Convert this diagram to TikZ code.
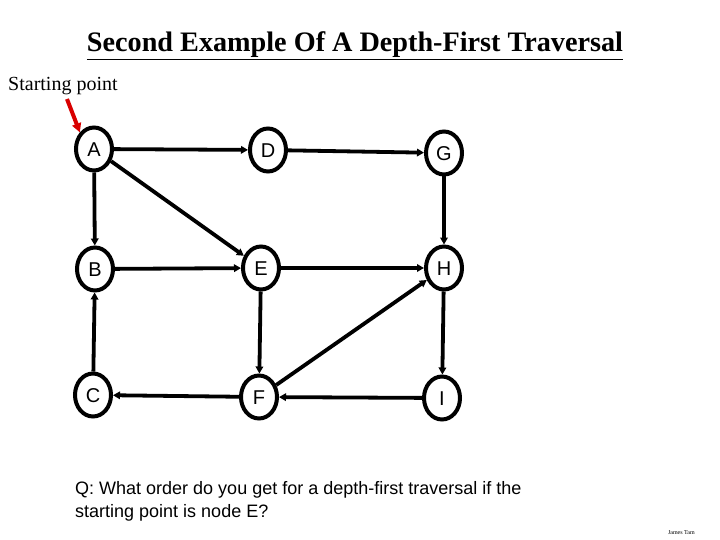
\documentclass[tikz,border=0pt]{standalone}
\usepackage{fontspec}
\setmainfont{Liberation Serif}
\setsansfont{Liberation Sans}
\usetikzlibrary{arrows.meta,shapes.geometric}
\begin{document}
\begin{tikzpicture}[x=1pt,y=-1pt,
  vert/.style={draw, ellipse, line width=4pt, minimum width=36pt, minimum height=43pt, inner sep=0pt, text height=14.5pt, text depth=0pt, font=\sffamily\fontsize{20}{22}\selectfont},
  edge/.style={line width=3.8pt, -{Triangle[length=7pt,width=7.5pt]}},
  redarrow/.style={line width=4pt, red!85!black, -{Triangle[length=9pt,width=9pt]}}]
\useasboundingbox (0,0) rectangle (720,540);
\fill[white] (0,0) rectangle (720,540);
% title
\node[anchor=base] (title) at (355,52) {\fontsize{28.2}{31}\selectfont\bfseries\underline{Second Example Of A Depth-First Traversal}};
\node[anchor=base west, inner sep=0pt] (start) at (8,91) {\fontsize{20}{23}\selectfont Starting point};
% vertices
\node[vert] (A) at (94,149) {A};
\node[vert] (D) at (268,150) {D};
\node[vert] (G) at (444,153) {G};
\node[vert] (B) at (95,269) {B};
\node[vert] (E) at (261,268) {E};
\node[vert] (H) at (444,268) {H};
\node[vert] (C) at (93,395) {C};
\node[vert] (F) at (259,397) {F};
\node[vert] (I) at (442,398) {I};
% red pointer
\coordinate (rs) at (67,99);
\draw[redarrow] (rs) -- (A.north west);
% edges
\draw[edge] (A) -- (D);
\draw[edge] (D) -- (G);
\draw[edge] (A) -- (B);
\draw[edge] (A) -- (E);
\draw[edge] (B) -- (E);
\draw[edge] (E) -- (H);
\draw[edge] (G) -- (H);
\draw[edge] (C) -- (B);
\draw[edge] (E) -- (F);
\draw[edge] (F) -- (H);
\draw[edge] (H) -- (I);
\draw[edge] (I) -- (F);
\draw[edge] (F) -- (C);
% question
\node[anchor=base west, inner sep=0pt, align=left, font=\sffamily\fontsize{18}{23}\selectfont] (q) at (75,517) {Q: What order do you get for a depth-first traversal if the\\starting point is node E?};
\node[anchor=base east, inner sep=0pt, font=\fontsize{6}{7}\selectfont] (auth) at (695,534) {James Tam};
\end{tikzpicture}
\end{document}
